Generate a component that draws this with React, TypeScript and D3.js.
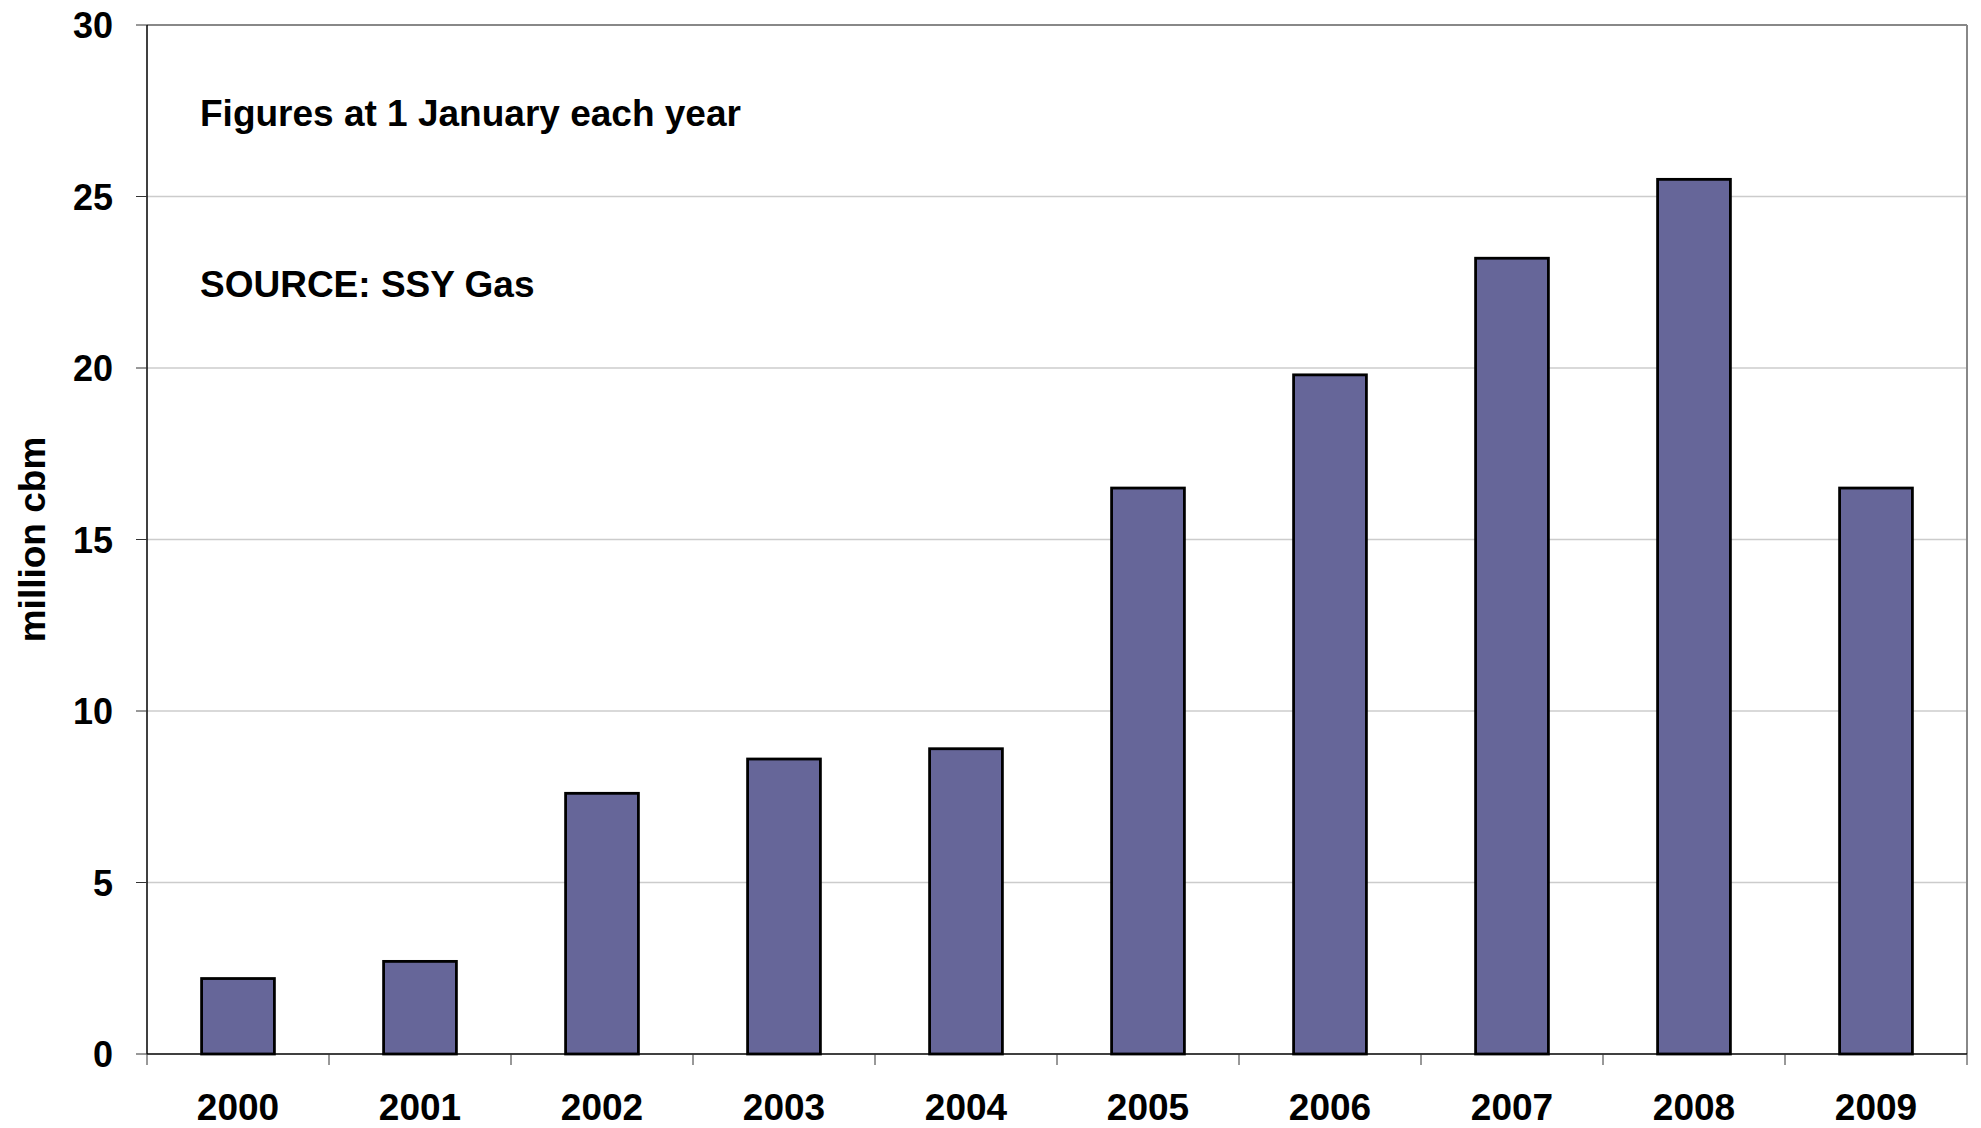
import React from "react";
import * as d3 from "d3";

// Storage capacity, million cbm, at 1 January each year
const years: string[] = ["2000", "2001", "2002", "2003", "2004", "2005", "2006", "2007", "2008", "2009"];
const capacity: number[] = [2.2, 2.7, 7.6, 8.6, 8.9, 16.5, 19.8, 23.2, 25.5, 16.5];
const yTicks: number[] = [0, 5, 10, 15, 20, 25, 30];

const W = 1981;
const H = 1128;
const left = 147;
const right = 1967;
const top = 25;
const bottom = 1054;
const font = "'Liberation Sans', Arial, Helvetica, sans-serif";

export default function App() {
  const x = d3.scaleBand<string>().domain(years).range([left, right]).paddingInner(0.6).paddingOuter(0.3);
  const band = d3.scaleBand<string>().domain(years).range([left, right]);
  const y = d3.scaleLinear().domain([0, 30]).range([bottom, top]);

  const boundaries = years.map((yr) => band(yr) as number).concat([right]);

  return (
    <svg
      width={W}
      height={H}
      style={{ position: "absolute", left: 0, top: 0, background: "#fff" }}
      fontFamily={font}
    >
      <rect x={0} y={0} width={W} height={H} fill="#fff" />
      {/* horizontal gridlines */}
      {yTicks.filter((t) => t > 0 && t < 30).map((t) => (
        <line key={"g" + t} x1={left} x2={right} y1={y(t)} y2={y(t)} stroke="#cccccc" strokeWidth={1.5} />
      ))}
      {/* plot frame: top and right in grey */}
      <line x1={left} x2={right} y1={y(30)} y2={y(30)} stroke="#888" strokeWidth={2} />
      <line x1={right} x2={right} y1={top} y2={bottom} stroke="#888" strokeWidth={2} />

      {/* bars */}
      {years.map((yr, i) => (
        <rect
          key={yr}
          x={x(yr)}
          y={y(capacity[i])}
          width={x.bandwidth()}
          height={bottom - y(capacity[i])}
          fill="#666699"
          stroke="#000"
          strokeWidth={2.8}
        />
      ))}

      {/* y axis */}
      <line x1={left} x2={left} y1={top} y2={bottom} stroke="#000" strokeWidth={1.5} />
      {yTicks.map((t) => (
        <g key={"yt" + t}>
          <line x1={left - 11} x2={left} y1={y(t)} y2={y(t)} stroke="#333" strokeWidth={1} />
          <text x={113} y={y(t) + 13} textAnchor="end" fontSize={36} fontWeight="bold" fill="#000">
            {t}
          </text>
        </g>
      ))}

      {/* x axis */}
      <line x1={left} x2={right} y1={bottom} y2={bottom} stroke="#000" strokeWidth={1.5} />
      {boundaries.map((bx, i) => (
        <line key={"xt" + i} x1={bx} x2={bx} y1={bottom} y2={bottom + 11} stroke="#333" strokeWidth={1} />
      ))}
      {years.map((yr) => (
        <text
          key={"xl" + yr}
          x={(band(yr) as number) + band.bandwidth() / 2}
          y={1120}
          textAnchor="middle"
          fontSize={37}
          fontWeight="bold"
          fill="#000"
        >
          {yr}
        </text>
      ))}

      {/* y axis title */}
      <text
        transform={`translate(45, ${(top + bottom) / 2}) rotate(-90)`}
        textAnchor="middle"
        fontSize={37}
        fontWeight="bold"
        fill="#000"
      >
        million cbm
      </text>

      {/* notes */}
      <text x={200} y={126} fontSize={37} fontWeight="bold" fill="#000">
        Figures at 1 January each year
      </text>
      <text x={200} y={297} fontSize={37} fontWeight="bold" fill="#000">
        SOURCE: SSY Gas
      </text>
    </svg>
  );
}
